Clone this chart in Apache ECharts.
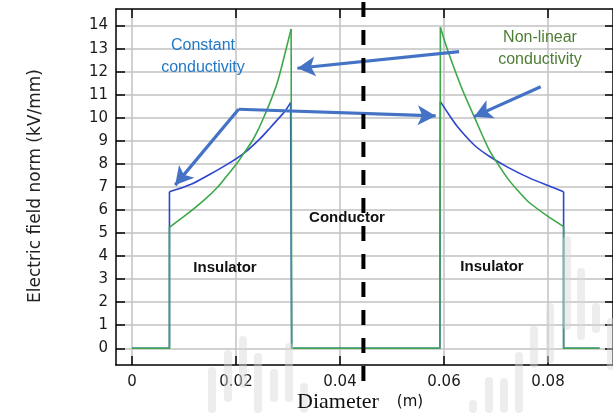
<!DOCTYPE html>
<html><head><meta charset="utf-8">
<script src="https://cdn.jsdelivr.net/npm/echarts@6/dist/echarts.min.js"></script>
<style>html,body{margin:0;padding:0;background:#fff}#c{width:613px;height:413px}</style>
</head><body><div id="c"></div>
<script>
// ---- data ----
const xTicks = [0, 0.02, 0.04, 0.06, 0.08];
const xTickLabels = ['0', '0.02', '0.04', '0.06', '0.08'];
const yTicks = [0,1,2,3,4,5,6,7,8,9,10,11,12,13,14];
// region boundaries along the diameter (m): start, insulator/conductor edges, end
const boundaries = [0, 0.0072, 0.0307, 0.0592, 0.0830, 0.0899];
const constantLeft = [
  [0.0072,6.79],[0.0100,7.0],[0.0118,7.16],[0.0150,7.55],[0.0183,7.98],
  [0.0215,8.46],[0.0247,9.11],[0.0265,9.55],[0.0279,9.9],[0.0293,10.25],[0.0305,10.66]
];
const constantRight = [
  [0.0593,10.7],[0.0610,10.12],[0.0626,9.61],[0.0658,8.82],[0.0687,8.33],
  [0.0723,7.85],[0.0768,7.35],[0.0800,7.06],[0.0830,6.79]
];
const nonLinearLeft = [
  [0.0072,5.25],[0.0100,5.72],[0.0138,6.42],[0.0165,7.0],[0.0183,7.5],
  [0.0202,8.03],[0.0215,8.46],[0.0230,8.95],[0.0242,9.45],[0.0253,10.0],[0.0266,10.7],
  [0.0279,11.5],[0.0287,12.15],[0.0296,12.95],[0.0306,13.85]
];
const nonLinearRight = [
  [0.0593,13.93],[0.0603,13.2],[0.0613,12.55],[0.0633,11.35],[0.0658,10.05],[0.0687,8.6],
  [0.0723,7.35],[0.0761,6.38],[0.0800,5.72],[0.0830,5.28]
];
// annotation arrows [start, end] in data units
const arrows = [
  [[0.0205,10.37],[0.0083,7.08]],
  [[0.0205,10.37],[0.0584,10.08]],
  [[0.0629,12.87],[0.0318,12.15]],
  [[0.0786,11.35],[0.0658,10.05]]
];
const centerLineX = 0.0445;

// ---- chart ----
const chart = echarts.init(document.getElementById('c'), null, {renderer:'canvas'});
const xMin = -0.00308, xMax = 0.0925, yMin = -0.725, yMax = 14.72;
const axisFont = {fontFamily:'DejaVu Sans', fontSize:15, color:'#1a1a1a'};
const lineBlack = {show:true, onZero:false, lineStyle:{color:'#000', width:1.5}};
const grayGrid = {show:true, lineStyle:{color:'#c2c2c2', width:1.5}};

function profileSeries(name, left, right, color, z, extra) {
  const last = a => a[a.length-1];
  const b = boundaries;
  const pieces = [
    [[b[0],0],[b[1],0],left[0]],
    [last(left),[b[2],0],[b[3],0],right[0]],
    [last(right),[b[4],0],[b[5],0]]
  ];
  const out = [];
  pieces.forEach((p,i)=>out.push(Object.assign({name:name, type:'line', data:p, symbol:'none', showSymbol:false,
    lineStyle:{color:color, width:1.6}, z:z}, i===0 && extra ? extra : {})));
  [left,right].forEach(c=>out.push({name:name, type:'line', data:c, symbol:'none', showSymbol:false,
    smooth:0.2, lineStyle:{color:color, width:1.6}, z:z}));
  return out;
}

const markArrows = {markLine:{silent:true, animation:false, symbol:['none','arrow'], symbolSize:[15,18],
  label:{show:false}, lineStyle:{color:'#4472c4', width:3.2, type:'solid'},
  data:arrows.map(a=>[{coord:a[0], symbol:'none'},{coord:a[1], symbol:'arrow'}])}};

chart.setOption({
  animation:false,
  backgroundColor:'#fff',
  grid:{left:116, top:9, right:0, bottom:48, containLabel:false},
  xAxis:[
    {type:'value', min:xMin, max:xMax, position:'bottom', axisLine:lineBlack,
     axisTick:{show:true, inside:true, length:9, customValues:xTicks, lineStyle:{color:'#000',width:1.5}},
     axisLabel:{show:true, customValues:xTicks, margin:10, ...axisFont,
       formatter:v=>{const i=xTicks.findIndex(t=>Math.abs(t-v)<1e-9);return i>=0?xTickLabels[i]:'';}},
     splitLine:grayGrid},
    {type:'value', min:xMin, max:xMax, position:'top', axisLine:lineBlack,
     axisTick:{show:true, inside:true, length:9, customValues:xTicks, lineStyle:{color:'#000',width:1.5}},
     axisLabel:{show:false}, splitLine:{show:false}}
  ],
  yAxis:[
    {type:'value', min:yMin, max:yMax, position:'left', axisLine:lineBlack,
     axisTick:{show:true, inside:true, length:9, customValues:yTicks, lineStyle:{color:'#000',width:1.5}},
     axisLabel:{show:true, customValues:yTicks, margin:8, ...axisFont},
     splitLine:grayGrid},
    {type:'value', min:yMin, max:yMax, position:'right', axisLine:lineBlack,
     axisTick:{show:true, inside:true, length:8, customValues:yTicks, lineStyle:{color:'#000',width:1.5}},
     axisLabel:{show:false}, splitLine:{show:false}}
  ],
  series:[].concat(
    profileSeries('Constant conductivity', constantLeft, constantRight, '#2b45cc', 3, markArrows),
    profileSeries('Non-linear conductivity', nonLinearLeft, nonLinearRight, '#3ca84a', 4)
  )
});

// decorations
const cx = chart.convertToPixel({xAxisIndex:0}, centerLineX);
const bars = [
  [212,367,413],[228,350,402],[243,336,388],[258,353,413],[274,369,402],[289,343,402],[304,383,413],
  [473,400,413],[489,377,413],[504,378,413],[519,352,413],[534,326,368],[550,303,363],
  [567,236,330],[581,268,340],[596,303,333],[611,318,370]
];
const graphics = [];
bars.forEach(b=>graphics.push({type:'rect', silent:true, z:50,
  shape:{x:b[0]-4, y:b[1], width:8, height:b[2]-b[1], r:4},
  style:{fill:'rgba(215,215,215,0.45)'}}));
graphics.push({type:'line', silent:true, z:60, shape:{x1:cx, y1:2, x2:cx, y2:381},
  style:{stroke:'#000', lineWidth:4, lineDash:[15,13]}});
const txt = (x,y,t,o)=>graphics.push(Object.assign({type:'text', silent:true, z:70, x:x, y:y,
  style:Object.assign({text:t, align:'center', verticalAlign:'middle'}, o)}));
const calib = {fontFamily:'Liberation Sans', fontSize:16};
txt(203,46,'Constant',Object.assign({fill:'#1f78c8'},calib));
txt(203,68,'conductivity',Object.assign({fill:'#1f78c8'},calib));
txt(540,38,'Non-linear',Object.assign({fill:'#4e7d35'},calib));
txt(540,60,'conductivity',Object.assign({fill:'#4e7d35'},calib));
const bold = {fontFamily:'Liberation Sans', fontSize:15, fontWeight:'bold', fill:'#111'};
txt(225,268,'Insulator',bold);
txt(492,267,'Insulator',bold);
txt(347,218,'Conductor',bold);
graphics.push({type:'text', silent:true, z:70, x:36, y:186, rotation:Math.PI/2,
  style:{text:'Electric field norm (kV/mm)', align:'center', verticalAlign:'middle',
    fontFamily:'DejaVu Sans', fontSize:17, fill:'#222'}});
txt(338,402,'Diameter',{fontFamily:'Liberation Serif', fontSize:22, fill:'#111'});
txt(410,402,'(m)',{fontFamily:'DejaVu Sans', fontSize:15, fill:'#111'});
chart.setOption({graphic:graphics});
</script>
</body></html>
